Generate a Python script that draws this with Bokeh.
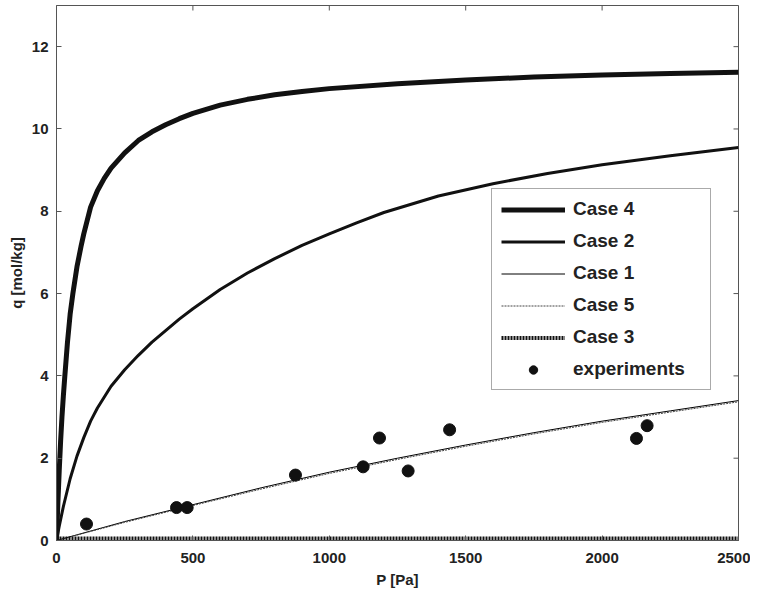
from bokeh.plotting import figure
from bokeh.models import Range1d, Legend, LegendItem, FixedTicker
from bokeh.embed import file_html
from bokeh.resources import INLINE

# ---- data ----
p_case4 = [0, 5, 10, 15, 20, 25, 30, 40, 50, 60, 75, 90, 100, 125, 150, 175, 200, 250, 300, 350,
           400, 450, 500, 600, 700, 800, 900, 1000, 1250, 1500, 1750, 2000, 2250, 2500]
q_case4 = [0, 0.9, 1.7, 2.4, 3.0, 3.5, 3.95, 4.8, 5.5, 6.0, 6.65, 7.15, 7.45, 8.1, 8.5, 8.8, 9.05, 9.42, 9.72, 9.93,
           10.1, 10.25, 10.38, 10.58, 10.72, 10.83, 10.91, 10.98, 11.1, 11.19, 11.26, 11.31, 11.35, 11.38]

p_case2 = [0, 10, 25, 50, 75, 100, 125, 150, 200, 250, 300, 350, 400, 450, 500, 600, 700, 800, 900,
           1000, 1100, 1200, 1400, 1600, 1800, 2000, 2250, 2500]
q_case2 = [0, 0.35, 0.82, 1.5, 2.05, 2.5, 2.9, 3.22, 3.75, 4.15, 4.5, 4.82, 5.1, 5.38, 5.63, 6.1, 6.5, 6.85, 7.17,
           7.45, 7.72, 7.97, 8.37, 8.67, 8.92, 9.13, 9.35, 9.55]

p_case1 = [0, 250, 500, 750, 1000, 1250, 1500, 1750, 2000, 2250, 2500]
q_case1 = [0, 0.46, 0.87, 1.28, 1.66, 2.0, 2.32, 2.62, 2.9, 3.15, 3.40]

p_case5 = [0, 250, 500, 750, 1000, 1250, 1500, 1750, 2000, 2250, 2500]
q_case5 = [0, 0.44, 0.85, 1.25, 1.63, 1.97, 2.29, 2.59, 2.87, 3.12, 3.37]

p_case3 = [0, 500, 1000, 1500, 2000, 2500]
q_case3 = [0.05, 0.05, 0.05, 0.05, 0.05, 0.05]

p_exp = [110, 440, 479, 876, 1124, 1184, 1289, 1441, 2126, 2165]
q_exp = [0.40, 0.80, 0.80, 1.59, 1.79, 2.49, 1.69, 2.69, 2.48, 2.79]

x_ticks = [0, 500, 1000, 1500, 2000, 2500]
y_ticks = [0, 2, 4, 6, 8, 10, 12]

FONT = "Liberation Sans"
INK = "#111111"
FRAME = "#555555"
X_END = 2500
Y_END = 13.0
FRAME_W = 682
FRAME_H = 535

p = figure(width=750, height=591, x_range=Range1d(0, X_END), y_range=Range1d(0, Y_END),
           output_backend="svg", toolbar_location=None,
           min_border_left=56, min_border_right=12, min_border_top=5, min_border_bottom=51)
p.grid.visible = False
p.outline_line_color = FRAME
p.outline_line_width = 1
p.background_fill_color = "white"
p.border_fill_color = "white"

for ax in (p.xaxis[0], p.yaxis[0]):
    ax.major_tick_in = 5
    ax.major_tick_out = 0
    ax.minor_tick_in = 0
    ax.minor_tick_out = 0
    ax.axis_line_color = FRAME
    ax.major_tick_line_color = FRAME
    ax.major_label_text_font = FONT
    ax.major_label_text_font_style = "bold"
    ax.major_label_text_font_size = "15px"
    ax.major_label_text_color = "#222222"
    ax.axis_label_text_font = FONT
    ax.axis_label_text_font_style = "bold"
    ax.axis_label_text_font_size = "15px"
    ax.axis_label_text_color = "#222222"

xa = p.xaxis[0]
xa.ticker = FixedTicker(ticks=x_ticks)
xa.axis_label = "P [Pa]"
xa.major_label_standoff = 12
xa.axis_label_standoff = 5

ya = p.yaxis[0]
ya.ticker = FixedTicker(ticks=y_ticks)
ya.axis_label = "q [mol/kg]"
ya.major_label_standoff = 8
ya.axis_label_standoff = 4

# mirrored inward ticks on top and right edges (MATLAB box style)
px_y = Y_END / FRAME_H
px_x = X_END / FRAME_W
p.segment(x0=x_ticks, y0=[Y_END] * len(x_ticks), x1=x_ticks, y1=[Y_END - 5 * px_y] * len(x_ticks),
          line_color=FRAME, line_width=1)
p.segment(x0=[X_END] * len(y_ticks), y0=y_ticks, x1=[X_END - 5 * px_x] * len(y_ticks), y1=y_ticks,
          line_color=FRAME, line_width=1)

r4 = p.line(p_case4, q_case4, line_color=INK, line_width=5, line_join="round")
r2 = p.line(p_case2, q_case2, line_color=INK, line_width=3, line_join="round")
r1 = p.line(p_case1, q_case1, line_color="#000000", line_width=1)
r5 = p.line(p_case5, q_case5, line_color="#444444", line_width=1, line_dash="2 1")
r3 = p.line(p_case3, q_case3, line_color="#111111", line_width=4, line_dash="2 1")
re = p.scatter(p_exp, q_exp, marker="circle", size=12, fill_color=INK, line_color=INK)

legend = Legend(items=[
    LegendItem(label="Case 4", renderers=[r4]),
    LegendItem(label="Case 2", renderers=[r2]),
    LegendItem(label="Case 1", renderers=[r1]),
    LegendItem(label="Case 5", renderers=[r5]),
    LegendItem(label="Case 3", renderers=[r3]),
    LegendItem(label="experiments", renderers=[re]),
], location=(435, 150))
legend.margin = 0
legend.padding = 9
legend.spacing = 10
legend.glyph_width = 64
legend.glyph_height = 21
legend.label_height = 21
legend.label_width = 128
legend.label_standoff = 8
legend.label_text_font = FONT
legend.label_text_font_style = "bold"
legend.label_text_font_size = "19px"
legend.label_text_color = "#222222"
legend.border_line_color = FRAME
legend.border_line_width = 1
legend.background_fill_color = "white"
legend.background_fill_alpha = 1
p.add_layout(legend, "center")

open("out.html", "w").write(file_html(p, INLINE))
